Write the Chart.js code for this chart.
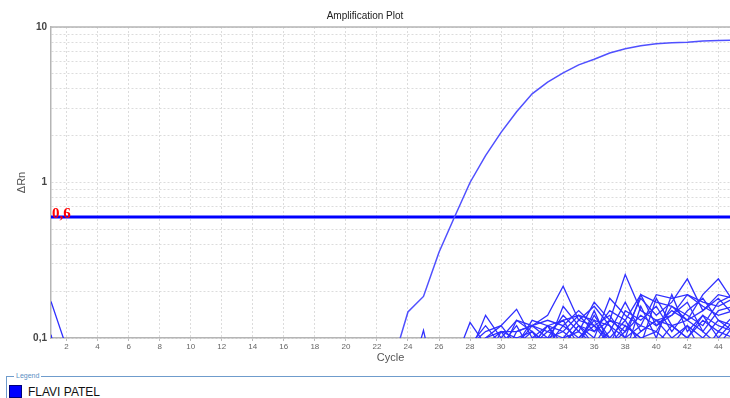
<!DOCTYPE html>
<html>
<head>
<meta charset="utf-8">
<script src="https://cdn.jsdelivr.net/npm/chart.js@4.4.1/dist/chart.umd.min.js"></script>
<style>
  body { margin: 0; background: #fff; width: 730px; height: 398px; overflow: hidden; font-family: Arial, "Liberation Sans", sans-serif; }
  #wrap { position: absolute; left: 0; top: 0; width: 730px; height: 370px; }
  #legend { position: absolute; left: 6px; top: 376px; width: 730px; height: 30px; border-top: 1px solid #6f9ccc; border-left: 1px solid #6f9ccc; }
  #legend .cap { position: absolute; left: 7px; top: -6px; background: #fff; padding: 0 2px; font-size: 7px; color: #5b8fc4; line-height: 10px; }
  #legend .box { position: absolute; left: 2px; top: 8px; width: 13px; height: 13px; background: #0000ff; border: 1px solid #00007a; box-sizing: border-box; }
  #legend .name { position: absolute; left: 21px; top: 8px; font-size: 12px; line-height: 14px; color: #111; }
</style>
</head>
<body>
<div id="wrap"><canvas id="ampChart" width="730" height="370"></canvas></div>
<div id="legend"><span class="cap">Legend</span><span class="box"></span><span class="name">FLAVI PATEL</span></div>
<script>
// tick positions
const xTicks = [2, 4, 6, 8, 10, 12, 14, 16, 18, 20, 22, 24, 26, 28, 30, 32, 34, 36, 38, 40, 42, 44];
const yTicks = [0.1, 0.2, 0.3, 0.4, 0.5, 0.6, 0.7, 0.8, 0.9, 1, 2, 3, 4, 5, 6, 7, 8, 9, 10];
const yLabels = { 0.1: "0,1", 1: "1", 10: "10" };

const threshold = 0.6;

// amplified sample
const mainCycles = [22, 23, 24, 25, 26, 27, 28, 29, 30, 31, 32, 33, 34, 35, 36, 37, 38, 39, 40, 41, 42, 43, 44, 45];
const mainValues = [0.06, 0.068, 0.147, 0.185, 0.356, 0.6, 1.0, 1.49, 2.1, 2.85, 3.72, 4.42, 5.07, 5.71, 6.2, 6.8, 7.24, 7.57, 7.8, 7.91, 7.99, 8.13, 8.19, 8.22];

// early baseline traces at cycle 1
const earlyCycles = [1, 2, 3];
const early1 = [0.172, 0.087, 0.06];
const early2 = [0.105, 0.04, 0.05];

// non amplified traces (noise)
const noiseCycles = [24, 25, 26, 27, 28, 29, 30, 31, 32, 33, 34, 35, 36, 37, 38, 39, 40, 41, 42, 43, 44, 45];
const noise1  = [0.05, 0.06, 0.05, 0.06, 0.09, 0.08, 0.07, 0.11, 0.12, 0.14, 0.215, 0.13, 0.12, 0.10, 0.09, 0.11, 0.13, 0.12, 0.10, 0.14, 0.12, 0.11];
const noise2  = [0.04, 0.05, 0.04, 0.05, 0.07, 0.09, 0.11, 0.10, 0.09, 0.12, 0.13, 0.14, 0.11, 0.13, 0.256, 0.15, 0.13, 0.14, 0.19, 0.16, 0.14, 0.15];
const noise3  = [0.05, 0.04, 0.05, 0.07, 0.126, 0.09, 0.08, 0.10, 0.11, 0.09, 0.12, 0.10, 0.13, 0.09, 0.11, 0.18, 0.14, 0.17, 0.24, 0.15, 0.19, 0.18];
const noise4  = [0.06, 0.05, 0.03, 0.06, 0.08, 0.14, 0.10, 0.09, 0.12, 0.11, 0.10, 0.13, 0.16, 0.12, 0.10, 0.12, 0.11, 0.16, 0.13, 0.19, 0.24, 0.17];
const noise5  = [0.04, 0.06, 0.06, 0.05, 0.09, 0.11, 0.12, 0.153, 0.10, 0.12, 0.11, 0.09, 0.14, 0.10, 0.13, 0.19, 0.17, 0.16, 0.14, 0.12, 0.17, 0.19];
const noise6  = [0.05, 0.112, 0.04, 0.06, 0.07, 0.08, 0.09, 0.12, 0.08, 0.10, 0.14, 0.11, 0.17, 0.13, 0.12, 0.10, 0.09, 0.12, 0.10, 0.13, 0.11, 0.14];
const noise7  = [0.03, 0.05, 0.05, 0.04, 0.08, 0.10, 0.12, 0.09, 0.13, 0.12, 0.09, 0.12, 0.10, 0.18, 0.14, 0.12, 0.19, 0.18, 0.19, 0.17, 0.16, 0.18];
const noise8  = [0.06, 0.04, 0.07, 0.06, 0.06, 0.09, 0.10, 0.13, 0.11, 0.09, 0.16, 0.12, 0.09, 0.11, 0.17, 0.11, 0.13, 0.10, 0.12, 0.10, 0.13, 0.12];
const noise9  = [0.05, 0.05, 0.03, 0.05, 0.08, 0.07, 0.11, 0.11, 0.12, 0.13, 0.12, 0.15, 0.12, 0.14, 0.10, 0.19, 0.12, 0.14, 0.17, 0.11, 0.15, 0.16];
const noise10 = [0.04, 0.06, 0.06, 0.07, 0.09, 0.12, 0.09, 0.10, 0.09, 0.11, 0.13, 0.09, 0.15, 0.09, 0.15, 0.13, 0.16, 0.11, 0.15, 0.18, 0.13, 0.11];
const noise11 = [0.05, 0.04, 0.05, 0.05, 0.07, 0.10, 0.11, 0.08, 0.10, 0.10, 0.11, 0.14, 0.13, 0.12, 0.08, 0.16, 0.10, 0.19, 0.11, 0.14, 0.10, 0.13];
const noise12 = [0.06, 0.05, 0.04, 0.06, 0.08, 0.09, 0.08, 0.13, 0.12, 0.10, 0.09, 0.12, 0.11, 0.15, 0.13, 0.09, 0.18, 0.12, 0.13, 0.15, 0.18, 0.14];
const noise13 = [0.04, 0.05, 0.05, 0.04, 0.06, 0.08, 0.09, 0.09, 0.11, 0.08, 0.10, 0.11, 0.09, 0.13, 0.11, 0.14, 0.12, 0.15, 0.13, 0.11, 0.09, 0.12];
const noise14 = [0.05, 0.04, 0.04, 0.05, 0.05, 0.07, 0.08, 0.10, 0.09, 0.12, 0.08, 0.10, 0.12, 0.09, 0.12, 0.10, 0.11, 0.09, 0.12, 0.08, 0.11, 0.10];
const noiseSeries = [noise1, noise2, noise3, noise4, noise5, noise6, noise7, noise8, noise9, noise10, noise11, noise12, noise13, noise14];

const xMin = 1, xMax = 44.75;
const traceColor = '#2f2fff';

function pts(xs, ys) {
    return xs.map((x, i) => ({ x: x, y: ys[i] }));
}

const datasets = [];
noiseSeries.forEach(s => {
    datasets.push({ data: pts(noiseCycles, s), borderColor: traceColor, borderWidth: 1.3, pointRadius: 0, tension: 0 });
});
datasets.push({ data: pts(earlyCycles, early1), borderColor: traceColor, borderWidth: 1.3, pointRadius: 0 });
datasets.push({ data: pts(earlyCycles, early2), borderColor: traceColor, borderWidth: 1.3, pointRadius: 0 });
datasets.push({ data: pts(mainCycles, mainValues), borderColor: '#5050ff', borderWidth: 1.5, pointRadius: 0 });
// threshold line
datasets.push({ data: [{ x: xMin, y: threshold }, { x: xMax, y: threshold }], borderColor: '#0000ff', borderWidth: 3, pointRadius: 0 });

// frame + threshold label
const extras = {
    id: 'extras',
    afterDatasetsDraw(chart) {
        const ctx = chart.ctx, a = chart.chartArea;
        const y = chart.scales.y.getPixelForValue(threshold);
        ctx.save();
        ctx.strokeStyle = '#b5b5b5';
        ctx.lineWidth = 1.5;
        ctx.beginPath();
        ctx.moveTo(a.left, a.top);
        ctx.lineTo(a.right, a.top);
        ctx.stroke();
        ctx.fillStyle = '#ff0000';
        ctx.font = "bold 15px 'Liberation Serif', serif";
        ctx.textBaseline = 'alphabetic';
        ctx.fillText('0,6', a.left + 1, y + 1);
        ctx.restore();
    }
};

new Chart(document.getElementById('ampChart').getContext('2d'), {
    type: 'line',
    data: { datasets: datasets },
    plugins: [extras],
    options: {
        responsive: false,
        animation: false,
        layout: { padding: 0 },
        plugins: {
            legend: { display: false },
            tooltip: { enabled: false },
            title: {
                display: true,
                text: 'Amplification Plot',
                color: '#222',
                font: { size: 10, family: 'Arial, "Liberation Sans", sans-serif', weight: 'normal' },
                padding: { top: 10, bottom: 5 }
            }
        },
        scales: {
            x: {
                type: 'linear',
                min: xMin,
                max: xMax,
                afterBuildTicks: s => { s.ticks = xTicks.map(v => ({ value: v })); },
                afterFit: s => { s.height = 32; },
                ticks: {
                    color: '#666',
                    font: { size: 8, family: 'Arial, "Liberation Sans", sans-serif' },
                    padding: 1,
                    maxRotation: 0,
                    autoSkip: false
                },
                grid: { color: '#dcdcdc', tickLength: 3, drawTicks: true, tickColor: '#bbb' },
                border: { color: '#b5b5b5', width: 1.5, dash: [2, 2] },
                title: {
                    display: true,
                    text: 'Cycle',
                    color: '#555',
                    font: { size: 11, family: 'Arial, "Liberation Sans", sans-serif' },
                    padding: { top: 0, bottom: 5 }
                }
            },
            y: {
                type: 'logarithmic',
                min: 0.1,
                max: 10,
                afterBuildTicks: s => { s.ticks = yTicks.map(v => ({ value: v })); },
                afterFit: s => { s.width = 51; },
                ticks: {
                    color: '#444',
                    font: { size: 10, family: 'Arial, "Liberation Sans", sans-serif', weight: 'bold' },
                    padding: 4,
                    autoSkip: false,
                    callback: v => yLabels[v] || ''
                },
                grid: { color: '#dcdcdc', drawTicks: false },
                border: { color: '#b5b5b5', width: 1.5, dash: [2, 2] },
                title: {
                    display: true,
                    text: 'ΔRn',
                    color: '#555',
                    font: { size: 11, family: 'Arial, "Liberation Sans", sans-serif' },
                    padding: { top: 15, bottom: 4 }
                }
            }
        }
    }
});
</script>
</body>
</html>
